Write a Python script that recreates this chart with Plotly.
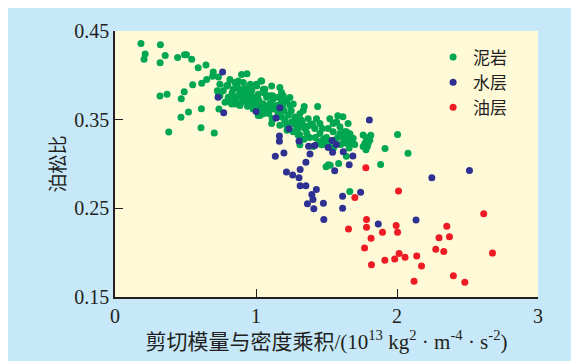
import plotly.graph_objects as go

# 泥岩 (mudstone)
mud_x = [0.184, 0.322, 0.214, 0.206, 0.356, 0.320, 0.444, 0.493, 0.507, 0.544,
         0.590, 0.645, 0.697, 0.692, 0.734, 0.650, 0.615, 0.551, 0.491, 0.470,
         0.319, 0.369, 0.381, 0.468, 0.521, 0.613, 0.610, 0.704, 0.737, 0.726,
         0.744, 0.735,
         0.799, 0.815, 0.898, 0.936, 1.004, 1.035, 1.111, 1.169, 1.181, 1.118,
         1.103, 1.115, 0.792, 0.768, 0.838, 0.886, 0.921, 0.909, 0.862, 0.815,
         0.780, 0.850, 0.886, 0.980, 1.004, 1.028, 0.969, 0.874, 0.909, 0.945,
         1.004, 1.040, 1.063, 1.075, 1.016, 0.969, 0.933, 0.886, 0.850, 0.803,
         0.827, 0.874, 0.921, 0.957, 1.040, 1.016, 1.063, 0.744, 0.862,
         1.051, 1.098, 1.122, 1.157, 1.193, 1.217, 1.240, 1.264, 1.193, 1.146,
         1.122, 1.098, 1.075, 1.051, 1.028, 1.122, 1.181, 1.205, 1.169, 1.217,
         1.252, 1.276, 1.311, 1.335, 1.342, 1.437, 1.370, 1.323, 1.288, 1.264,
         1.299, 1.347, 1.382, 1.429, 1.453, 1.417, 1.453, 1.476, 1.465, 1.441,
         1.311, 1.111, 1.189, 1.157, 1.306, 1.405, 1.359,
         1.524, 1.547, 1.571, 1.512, 1.547, 1.595, 1.630, 1.642, 1.653, 1.618,
         1.689, 1.760, 1.784, 1.772, 1.795, 1.760, 1.807, 1.814, 1.642, 1.653,
         1.559, 1.524, 1.481, 1.488, 1.595, 1.666, 1.680, 1.580, 1.616,
         2.004, 1.915, 2.078, 1.884, 1.641, 1.586, 1.497, 1.526, 1.665, 1.513,
         0.880, 0.900, 0.930, 0.950, 0.970, 0.990, 0.870, 0.940, 0.960, 1.020,
         1.050, 1.080, 1.060, 0.830, 0.810, 0.850, 0.910, 0.980, 1.090, 1.130,
         1.200, 1.230, 1.250, 1.220, 1.270, 1.300, 1.330, 1.360, 1.380, 1.340,
         1.400, 1.420, 1.450, 1.470, 1.500, 1.520, 1.550, 1.580, 1.600, 1.620,
         1.660, 1.700, 1.780, 1.800, 1.790, 1.280, 1.310, 1.150, 1.180, 1.240]
mud_y = [0.4358, 0.4345, 0.4242, 0.4181, 0.4223, 0.4142, 0.4201, 0.4231, 0.4231, 0.4181,
         0.4085, 0.4117, 0.4037, 0.3991, 0.3982, 0.3954, 0.3910, 0.3893, 0.3814, 0.3736,
         0.3766, 0.3788, 0.3360, 0.3528, 0.3586, 0.3622, 0.3409, 0.3351, 0.3620, 0.3825,
         0.3899, 0.3788,
         0.3891, 0.3954, 0.4010, 0.4017, 0.3880, 0.3935, 0.3880, 0.3862, 0.3807, 0.3769,
         0.3689, 0.3511, 0.3880, 0.3825, 0.3844, 0.3825, 0.3825, 0.3752, 0.3752, 0.3752,
         0.3696, 0.3677, 0.3659, 0.3714, 0.3677, 0.3641, 0.3677, 0.3935, 0.3844, 0.3862,
         0.3899, 0.3935, 0.3844, 0.3752, 0.3788, 0.3769, 0.3788, 0.3769, 0.3733, 0.3752,
         0.3677, 0.3677, 0.3714, 0.3677, 0.3622, 0.3548, 0.3603, 0.3769, 0.3899,
         0.3844, 0.3769, 0.3733, 0.3752, 0.3769, 0.3714, 0.3659, 0.3677, 0.3677, 0.3659,
         0.3622, 0.3677, 0.3603, 0.3567, 0.3548, 0.3511, 0.3530, 0.3493, 0.3437, 0.3437,
         0.3475, 0.3530, 0.3567, 0.3603, 0.3648, 0.3648, 0.3511, 0.3493, 0.3420, 0.3364,
         0.3327, 0.3401, 0.3437, 0.3511, 0.3456, 0.3401, 0.3345, 0.3271, 0.3216, 0.3235,
         0.3216, 0.3456, 0.3622, 0.3567, 0.3475, 0.3198, 0.3420,
         0.3511, 0.3456, 0.3475, 0.3401, 0.3364, 0.3420, 0.3364, 0.3290, 0.3235, 0.3235,
         0.3290, 0.3327, 0.3290, 0.3235, 0.3235, 0.3198, 0.3268, 0.3323, 0.3364, 0.3456,
         0.3271, 0.3265, 0.3279, 0.3224, 0.3345, 0.3340, 0.3235, 0.3545, 0.3534,
         0.3334, 0.3174, 0.3122, 0.2993, 0.3087, 0.3006, 0.2969, 0.2986, 0.2689, 0.2991,
         0.3780, 0.3700, 0.3800, 0.3720, 0.3830, 0.3750, 0.3860, 0.3650, 0.3900, 0.3720,
         0.3680, 0.3650, 0.3800, 0.3800, 0.3710, 0.3920, 0.3920, 0.3620, 0.3570, 0.3620,
         0.3600, 0.3550, 0.3600, 0.3380, 0.3450, 0.3400, 0.3450, 0.3350, 0.3300, 0.3280,
         0.3450, 0.3300, 0.3250, 0.3400, 0.3300, 0.3200, 0.3180, 0.3300, 0.3220, 0.3300,
         0.3180, 0.3220, 0.3160, 0.3300, 0.3200, 0.3520, 0.3330, 0.3660, 0.3700, 0.3750]

# 水层 (water layer)
water_x = [0.763, 0.731, 0.771, 1.001, 1.142, 1.169, 1.234, 1.166, 1.166, 1.305,
           1.373, 1.417, 1.137, 1.198, 1.383, 1.354, 1.313, 1.216, 1.260, 1.305,
           1.313, 1.354, 1.428, 1.396, 1.404, 1.365, 1.478, 1.410, 1.481, 1.512,
           1.540, 1.569, 1.543, 1.558, 1.619, 1.687, 1.661, 1.614, 1.614, 1.742,
           1.804, 1.867, 2.135, 2.247, 2.514]
water_y = [0.4039, 0.3752, 0.3578, 0.3592, 0.3519, 0.3633, 0.3397, 0.3315, 0.3257, 0.3260,
           0.3201, 0.3209, 0.3087, 0.3124, 0.3113, 0.3021, 0.2939, 0.2910, 0.2877, 0.2844,
           0.2755, 0.2755, 0.2711, 0.2656, 0.2600, 0.2552, 0.2556, 0.2496, 0.2374, 0.3187,
           0.3265, 0.3220, 0.3132, 0.2925, 0.3138, 0.3091, 0.2991, 0.2637, 0.2500, 0.2681,
           0.3497, 0.2324, 0.2368, 0.2844, 0.2928]

# 油层 (oil layer)
oil_x = [1.779, 2.011, 1.701, 2.615, 1.784, 1.656, 1.784, 1.994, 2.353, 1.897,
         2.004, 1.816, 2.298, 2.372, 1.770, 2.275, 2.332, 2.677, 2.015, 2.057,
         1.984, 1.914, 2.140, 2.174, 1.819, 2.400, 2.121, 2.481]
oil_y = [0.2958, 0.2695, 0.2622, 0.2438, 0.2374, 0.2268, 0.2286, 0.2305, 0.2297, 0.2231,
         0.2231, 0.2164, 0.2169, 0.2180, 0.2053, 0.2039, 0.2014, 0.1995, 0.1991, 0.1947,
         0.1928, 0.1914, 0.1962, 0.1851, 0.1865, 0.1740, 0.1677, 0.1666]

x_ticks = [0, 1, 2, 3]
y_ticks = [0.15, 0.25, 0.35, 0.45]
y_ticktext = ["0.15", "0.25", "0.35", "0.45"]

GREEN = "#00A651"
NAVY = "#2E3192"
RED = "#ED1C24"
INK = "#231F20"
SERIF = "Liberation Serif, Noto Sans CJK SC, serif"
CJK = "Noto Sans CJK SC, Liberation Serif"

fig = go.Figure()
fig.add_trace(go.Scatter(x=mud_x, y=mud_y, mode="markers", name="泥岩",
                         marker=dict(color=GREEN, size=7)))
fig.add_trace(go.Scatter(x=water_x, y=water_y, mode="markers", name="水层",
                         marker=dict(color=NAVY, size=7)))
fig.add_trace(go.Scatter(x=oil_x, y=oil_y, mode="markers", name="油层",
                         marker=dict(color=RED, size=7)))

fig.update_layout(
    width=579, height=361,
    margin=dict(l=107, r=49, t=18, b=72),
    paper_bgcolor="#C6E8F8",
    plot_bgcolor="#FEF9D7",
    showlegend=True,
    legend=dict(x=0.752, y=0.968, xanchor="left", yanchor="top",
                bgcolor="rgba(0,0,0,0)", borderwidth=0,
                font=dict(family=CJK, size=17, color=INK),
                itemwidth=30, tracegroupgap=0),
    xaxis=dict(range=[0, 3], tickvals=x_ticks, ticks="inside", ticklen=8,
               tickwidth=1.3, tickcolor=INK, showgrid=False, zeroline=False,
               showline=True, linecolor=INK, linewidth=1.5,
               tickfont=dict(family=SERIF, size=20, color=INK),
               title=dict(text="剪切模量与密度乘积/(10<sup>13</sup> kg<sup>2</sup> · m<sup>-4</sup> · s<sup>-2</sup>)",
                          font=dict(family=SERIF, size=21, color=INK),
                          standoff=4)),
    yaxis=dict(range=[0.15, 0.45], tickvals=y_ticks, ticktext=y_ticktext,
               ticks="inside", ticklen=8, tickwidth=1.3, tickcolor=INK,
               showgrid=False, zeroline=False, showline=True,
               linecolor=INK, linewidth=1.5,
               tickfont=dict(family=SERIF, size=20, color=INK),
               title=dict(text="泊松比", font=dict(family=CJK, size=19, color=INK),
                          standoff=4)),
)

fig.write_html("out.html")
